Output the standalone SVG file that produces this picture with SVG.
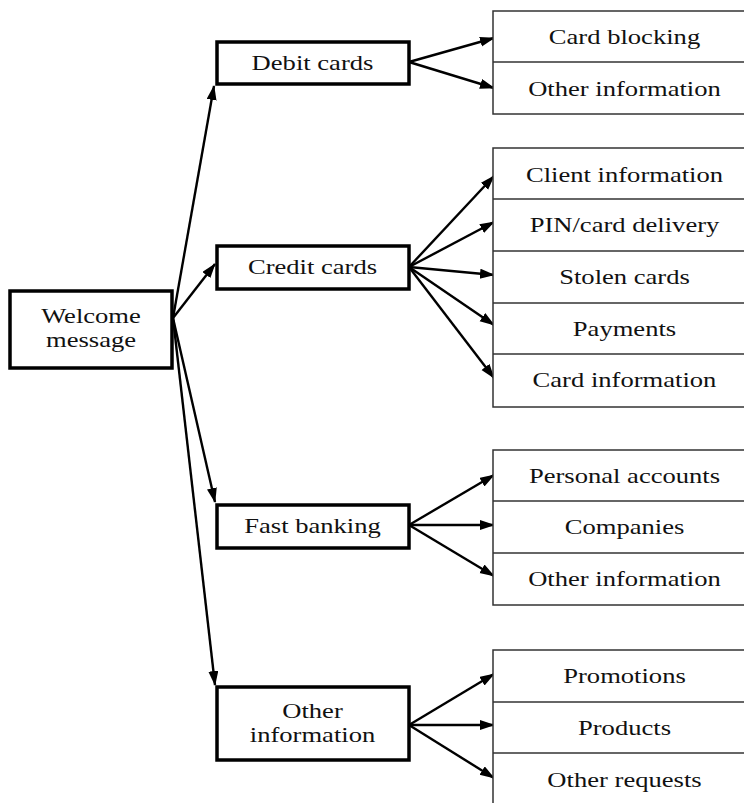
<svg xmlns="http://www.w3.org/2000/svg" width="744" height="803" viewBox="0 0 744 803">
<style>
text{font-family:"Liberation Serif","Times New Roman",serif;font-size:20px;fill:#111;text-anchor:middle}
.node{fill:#fff;stroke:#000;stroke-width:3.5}
.stack{fill:#fff;stroke:#333;stroke-width:1.5}
.div{stroke:#333;stroke-width:1.5}
.conn line{stroke:#000;stroke-width:2.4;marker-end:url(#ah)}
</style>
<defs>
<marker id="ah" markerUnits="userSpaceOnUse" markerWidth="16" markerHeight="12" refX="14" refY="5" orient="auto">
<path d="M0,0 L15,5 L0,10 z" fill="#000"/>
</marker>
</defs>
<rect width="744" height="803" fill="#fff"/>

<g id="connectors" class="conn">
<line x1="173" y1="318" x2="214" y2="86"/>
<line x1="173" y1="318" x2="215" y2="264"/>
<line x1="173" y1="318" x2="215" y2="502"/>
<line x1="173" y1="318" x2="215" y2="685"/>
<line x1="409" y1="62" x2="494" y2="38"/>
<line x1="409" y1="62" x2="494" y2="88"/>
<line x1="409" y1="267" x2="494" y2="176"/>
<line x1="409" y1="267" x2="494" y2="222"/>
<line x1="409" y1="267" x2="494" y2="275"/>
<line x1="409" y1="267" x2="494" y2="325"/>
<line x1="409" y1="267" x2="494" y2="378"/>
<line x1="409" y1="525" x2="494" y2="475"/>
<line x1="409" y1="525" x2="494" y2="525"/>
<line x1="409" y1="525" x2="494" y2="576"/>
<line x1="409" y1="725" x2="494" y2="674"/>
<line x1="409" y1="725" x2="494" y2="725"/>
<line x1="409" y1="725" x2="494" y2="778"/>
</g>

<g id="welcome">
<rect class="node" x="10" y="291" width="162" height="77"/>
<text transform="translate(91,323) scale(1.33,1)">Welcome</text>
<text transform="translate(91,347) scale(1.33,1)">message</text>
</g>

<g id="debit">
<rect class="node" x="217" y="42" width="192" height="42"/>
<text transform="translate(312.5,69.5) scale(1.33,1)">Debit cards</text>
</g>
<g id="credit">
<rect class="node" x="217" y="246" width="192" height="43"/>
<text transform="translate(312.5,274) scale(1.33,1)">Credit cards</text>
</g>
<g id="fast">
<rect class="node" x="217" y="505" width="192" height="43"/>
<text transform="translate(312.5,533) scale(1.33,1)">Fast banking</text>
</g>
<g id="otherinfo">
<rect class="node" x="217" y="687" width="192" height="73"/>
<text transform="translate(312.5,718) scale(1.33,1)">Other</text>
<text transform="translate(312.5,742) scale(1.33,1)">information</text>
</g>

<g id="debit-options">
<rect class="stack" x="493" y="11" width="300" height="103"/>
<line class="div" x1="493" y1="62" x2="744" y2="62"/>
<text transform="translate(624.5,44) scale(1.33,1)">Card blocking</text>
<text transform="translate(624.5,96) scale(1.33,1)">Other information</text>
</g>

<g id="credit-options">
<rect class="stack" x="493" y="148" width="300" height="259"/>
<line class="div" x1="493" y1="199" x2="744" y2="199"/>
<line class="div" x1="493" y1="251" x2="744" y2="251"/>
<line class="div" x1="493" y1="303" x2="744" y2="303"/>
<line class="div" x1="493" y1="354" x2="744" y2="354"/>
<text transform="translate(624.5,181.5) scale(1.33,1)">Client information</text>
<text transform="translate(624.5,232) scale(1.33,1)">PIN/card delivery</text>
<text transform="translate(624.5,284) scale(1.33,1)">Stolen cards</text>
<text transform="translate(624.5,336) scale(1.33,1)">Payments</text>
<text transform="translate(624.5,387) scale(1.33,1)">Card information</text>
</g>

<g id="fast-options">
<rect class="stack" x="493" y="450" width="300" height="155"/>
<line class="div" x1="493" y1="501" x2="744" y2="501"/>
<line class="div" x1="493" y1="553" x2="744" y2="553"/>
<text transform="translate(624.5,482.5) scale(1.33,1)">Personal accounts</text>
<text transform="translate(624.5,534) scale(1.33,1)">Companies</text>
<text transform="translate(624.5,586) scale(1.33,1)">Other information</text>
</g>

<g id="other-options">
<rect class="stack" x="493" y="650" width="300" height="180"/>
<line class="div" x1="493" y1="702" x2="744" y2="702"/>
<line class="div" x1="493" y1="753" x2="744" y2="753"/>
<text transform="translate(624.5,683) scale(1.33,1)">Promotions</text>
<text transform="translate(624.5,735) scale(1.33,1)">Products</text>
<text transform="translate(624.5,787) scale(1.33,1)">Other requests</text>
</g>
</svg>
